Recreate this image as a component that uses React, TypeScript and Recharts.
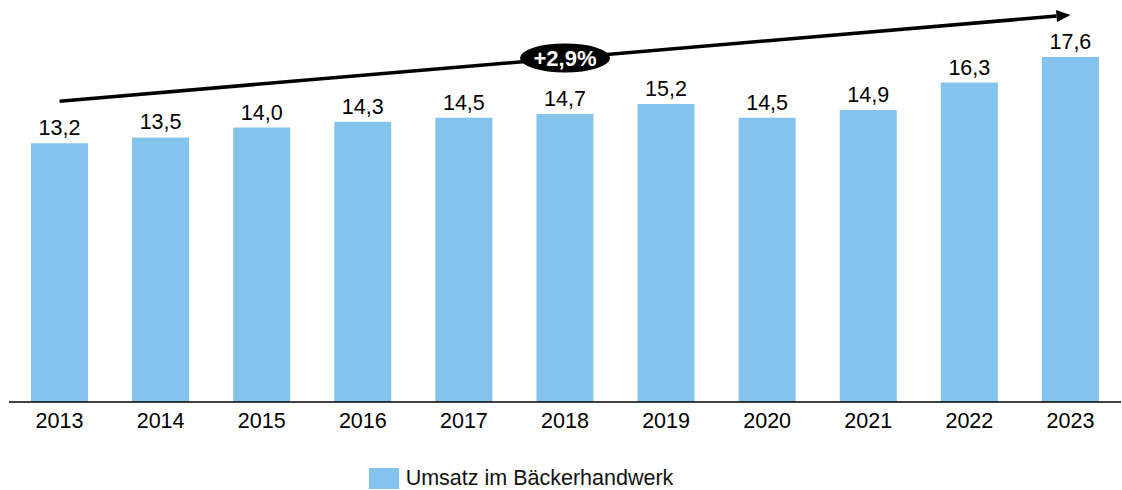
import React from 'react';
import { BarChart, Bar, XAxis, YAxis, LabelList, Legend, ReferenceLine, ReferenceDot } from 'recharts';

const years = ['2013', '2014', '2015', '2016', '2017', '2018', '2019', '2020', '2021', '2022', '2023'];
const umsatz = [13.2, 13.5, 14.0, 14.3, 14.5, 14.7, 15.2, 14.5, 14.9, 16.3, 17.6];
const trendStart = 15.35;
const trendEnd = 19.75;
const cagrLabel = '+2,9%';
const seriesName = 'Umsatz im Bäckerhandwerk';

const data = years.map((year, i) => ({ year, value: umsatz[i] }));

const font = '"Liberation Sans", Arial, sans-serif';
const barColor = '#84C3EB';
const fs = 21.5;

const fmt = (v: any) => Number(v).toFixed(1).replace('.', ',');

const TrendArrow = (props: any) => {
  const { x1, y1, x2, y2 } = props;
  const ang = Math.atan2(y2 - y1, x2 - x1);
  const len = 14;
  const half = 6;
  const bx = x2 - len * Math.cos(ang);
  const by = y2 - len * Math.sin(ang);
  const px = -Math.sin(ang) * half;
  const py = Math.cos(ang) * half;
  return (
    <g>
      <line x1={x1} y1={y1} x2={bx} y2={by} stroke="#000" strokeWidth={3.5} />
      <polygon points={`${x2},${y2} ${bx + px},${by + py} ${bx - px},${by - py}`} fill="#000" />
    </g>
  );
};

const CagrBubble = (props: any) => {
  const { cx, cy } = props;
  return (
    <g>
      <ellipse cx={cx} cy={cy} rx={45} ry={14.5} fill="#000" />
      <text x={cx} y={cy + 8} textAnchor="middle" fill="#fff" fontSize={22} fontWeight="bold" fontFamily={font}>
        {cagrLabel}
      </text>
    </g>
  );
};

const LegendContent = () => (
  <div style={{ display: 'flex', alignItems: 'center', justifyContent: 'center', fontFamily: font, fontSize: fs, color: '#111', paddingTop: 24, paddingRight: 88 }}>
    <span style={{ display: 'inline-block', width: 30, height: 21, background: barColor, marginRight: 7 }} />
    <span>{seriesName}</span>
  </div>
);

export default function App() {
  return (
    <div style={{ position: 'absolute', left: 0, top: 0, background: '#fff' }}>
      <BarChart
        width={1122}
        height={490}
        data={data}
        margin={{ top: 10, right: 1, left: 9, bottom: 4 }}
        barSize={57}
      >
        <XAxis
          dataKey="year"
          axisLine={{ stroke: '#000', strokeWidth: 1.5 }}
          tickLine={false}
          tickMargin={5}
          height={40}
          tick={{ fill: '#000', fontSize: fs, fontFamily: font }}
        />
        <YAxis hide domain={[0, 20]} />
        <Bar dataKey="value" name={seriesName} fill={barColor} isAnimationActive={false}>
          <LabelList
            dataKey="value"
            position="top"
            offset={8}
            formatter={fmt}
            style={{ fill: '#000', fontSize: fs, fontFamily: font }}
          />
        </Bar>
        <ReferenceLine
          segment={[{ x: years[0], y: trendStart }, { x: years[years.length - 1], y: trendEnd }]}
          ifOverflow="visible"
          shape={TrendArrow}
        />
        <ReferenceDot
          x={years[5]}
          y={trendStart + (trendEnd - trendStart) / 2}
          ifOverflow="visible"
          shape={CagrBubble}
        />
        <Legend verticalAlign="bottom" height={44} content={LegendContent} />
      </BarChart>
    </div>
  );
}
